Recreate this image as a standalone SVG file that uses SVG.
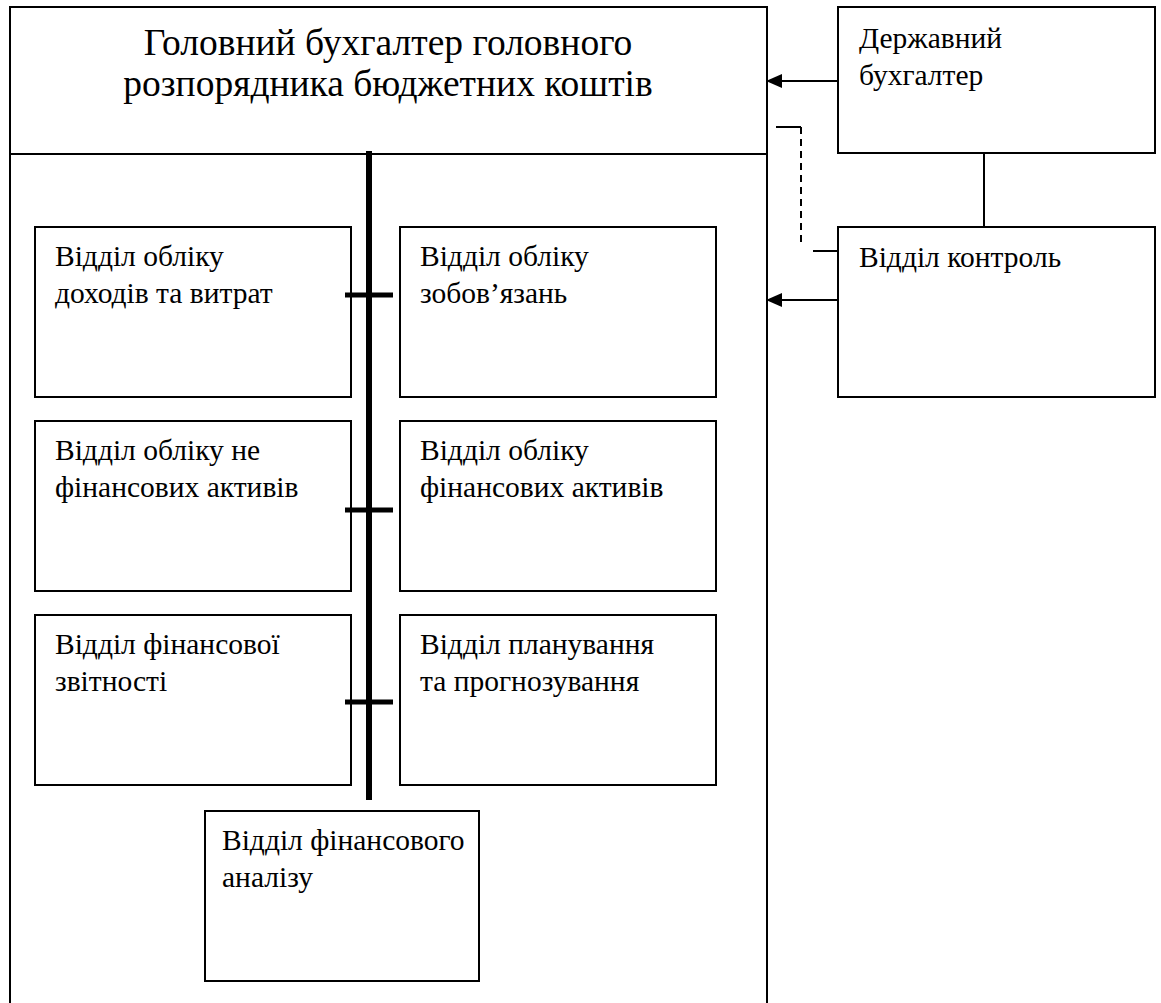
<svg xmlns="http://www.w3.org/2000/svg" width="1161" height="1003" viewBox="0 0 1161 1003">
<defs>
<style>
.nbox{fill:#fff;stroke:#000;stroke-width:2}
.cline{stroke:#000;stroke-width:2;fill:none}
</style>
</defs>
<rect width="1161" height="1003" fill="#fff"/>
<g id="head">
<path class="cline" d="M10,1005 V7 H767 V1005"/>
<line class="cline" x1="10" y1="154" x2="767" y2="154"/>
<text font-family="Liberation Serif, serif" font-size="37.5" text-anchor="middle" x="388" y="55">Головний бухгалтер головного</text>
<text font-family="Liberation Serif, serif" font-size="37.5" text-anchor="middle" x="388" y="96">розпорядника бюджетних коштів</text>
</g>
<g id="derzh" font-family="Liberation Serif, serif" font-size="29.5">
<rect class="nbox" x="838" y="7" width="317" height="146"/>
<text x="859" y="48">Державний</text>
<text x="859" y="85">бухгалтер</text>
</g>
<g id="kontrol" font-family="Liberation Serif, serif" font-size="29.5">
<rect class="nbox" x="838" y="227" width="317" height="170"/>
<text x="859" y="267">Відділ контроль</text>
</g>
<g id="d1" font-family="Liberation Serif, serif" font-size="29.5"><rect class="nbox" x="35" y="227" width="316" height="170"/><text x="55" y="266">Відділ обліку</text><text x="55" y="303">доходів та витрат</text></g>
<g id="d2" font-family="Liberation Serif, serif" font-size="29.5"><rect class="nbox" x="400" y="227" width="316" height="170"/><text x="420" y="266">Відділ обліку</text><text x="420" y="303">зобов’язань</text></g>
<g id="d3" font-family="Liberation Serif, serif" font-size="29.5"><rect class="nbox" x="35" y="421" width="316" height="170"/><text x="55" y="460">Відділ обліку не</text><text x="55" y="497">фінансових активів</text></g>
<g id="d4" font-family="Liberation Serif, serif" font-size="29.5"><rect class="nbox" x="400" y="421" width="316" height="170"/><text x="420" y="460">Відділ обліку</text><text x="420" y="497">фінансових активів</text></g>
<g id="d5" font-family="Liberation Serif, serif" font-size="29.5"><rect class="nbox" x="35" y="615" width="316" height="170"/><text x="55" y="654">Відділ фінансової</text><text x="55" y="691">звітності</text></g>
<g id="d6" font-family="Liberation Serif, serif" font-size="29.5"><rect class="nbox" x="400" y="615" width="316" height="170"/><text x="420" y="654">Відділ планування</text><text x="420" y="691">та прогнозування</text></g>
<g id="d7" font-family="Liberation Serif, serif" font-size="29.5"><rect class="nbox" x="205" y="811" width="274" height="170"/><text x="222" y="850">Відділ фінансового</text><text x="222" y="887">аналізу</text></g>
<g id="connectors">
<line x1="369" y1="151" x2="369" y2="800" stroke="#000" stroke-width="6"/>
<line x1="345" y1="295" x2="393" y2="295" stroke="#000" stroke-width="5"/>
<line x1="345" y1="510" x2="393" y2="510" stroke="#000" stroke-width="5"/>
<line x1="345" y1="702" x2="393" y2="702" stroke="#000" stroke-width="5"/>
<line class="cline" x1="838" y1="81" x2="782" y2="81"/>
<path d="M766,81 L782,74 L782,88 z" fill="#000"/>
<line class="cline" x1="838" y1="300" x2="782" y2="300"/>
<path d="M766,300 L782,293 L782,307 z" fill="#000"/>
<line class="cline" x1="984" y1="153" x2="984" y2="227"/>
<path class="cline" d="M776,127 H801"/>
<line class="cline" x1="801" y1="127" x2="801" y2="246" stroke-dasharray="7,5"/>
<line class="cline" x1="813" y1="251" x2="838" y2="251"/>
</g>
</svg>
